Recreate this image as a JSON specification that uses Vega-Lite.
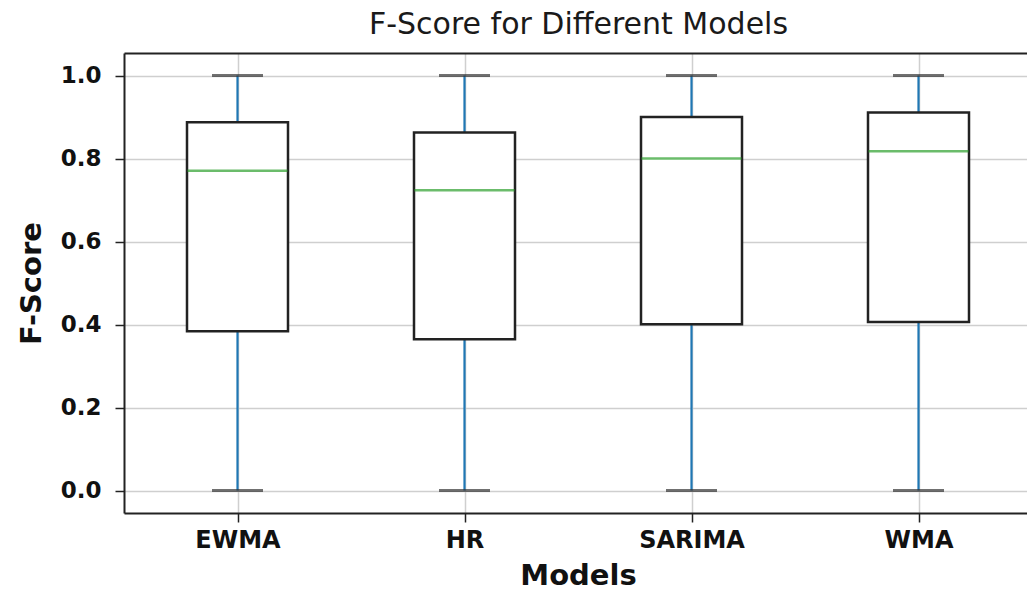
{
  "$schema": "https://vega.github.io/schema/vega-lite/v6.json",
  "autosize": {"type": "none"},
  "padding": {"left": 124, "top": 53, "right": 0, "bottom": 78},
  "width": 903,
  "height": 460,
  "background": "white",
  "title": {
    "text": "F-Score for Different Models",
    "font": "DejaVu Sans",
    "fontSize": 30,
    "fontWeight": "normal",
    "color": "#1a1a1a",
    "anchor": "middle",
    "dx": 3,
    "offset": 13
  },
  "config": {
    "view": {"stroke": null},
    "axis": {
      "labelFont": "DejaVu Sans",
      "titleFont": "DejaVu Sans",
      "labelFontWeight": "bold",
      "titleFontWeight": "bold",
      "labelColor": "#111",
      "titleColor": "#111",
      "gridColor": "#cfcfcf",
      "gridWidth": 1.5,
      "domainColor": "#222",
      "domainWidth": 2,
      "tickColor": "#222",
      "tickWidth": 1.5,
      "tickSize": 9
    }
  },
  "data": {
    "values": [
      {"model": "EWMA", "min": 0.0, "q1": 0.384, "median": 0.771, "q3": 0.8875, "max": 1.0},
      {"model": "HR", "min": 0.0, "q1": 0.365, "median": 0.7236, "q3": 0.863, "max": 1.0},
      {"model": "SARIMA", "min": 0.0, "q1": 0.401, "median": 0.80, "q3": 0.90, "max": 1.0},
      {"model": "WMA", "min": 0.0, "q1": 0.406, "median": 0.8176, "q3": 0.911, "max": 1.0}
    ]
  },
  "layer": [
    {
      "mark": {"type": "rule", "color": "#1f77b4", "strokeWidth": 2.2},
      "encoding": {
        "x": {
          "field": "model",
          "type": "nominal",
          "sort": ["EWMA", "HR", "SARIMA", "WMA"],
          "scale": {"type": "point", "padding": 0.5, "range": [0, 908]},
          "axis": {
            "title": "Models",
            "labelAngle": 0,
            "labelFontSize": 24,
            "titleFontSize": 29,
            "labelPadding": 6,
            "titlePadding": 9,
            "grid": true
          }
        },
        "y": {
          "field": "min",
          "type": "quantitative",
          "title": "F-Score",
          "scale": {"domain": [-0.054, 1.0545], "nice": false, "zero": false},
          "axis": {
            "values": [0, 0.2, 0.4, 0.6, 0.8, 1.0],
            "format": ".1f",
            "labelFontSize": 23,
            "titleFontSize": 29,
            "labelPadding": 14,
            "titlePadding": 14,
            "grid": true
          }
        },
        "y2": {"field": "max"}
      }
    },
    {
      "mark": {"type": "bar", "fill": "white", "stroke": "#222", "strokeWidth": 2.5, "size": 101},
      "encoding": {
        "x": {
          "field": "model",
          "type": "nominal",
          "sort": ["EWMA", "HR", "SARIMA", "WMA"],
          "axis": {
            "orient": "top",
            "labels": false,
            "ticks": false,
            "grid": false,
            "title": null,
            "domain": true
          }
        },
        "y": {"field": "q1", "type": "quantitative", "title": "F-Score"},
        "y2": {"field": "q3"}
      }
    },
    {
      "mark": {"type": "tick", "color": "#2ca02c", "size": 100, "thickness": 2.5},
      "encoding": {
        "x": {"field": "model", "type": "nominal", "sort": ["EWMA", "HR", "SARIMA", "WMA"], "axis": null},
        "y": {"field": "median", "type": "quantitative", "title": "F-Score"}
      }
    },
    {
      "mark": {"type": "tick", "color": "#333", "size": 51, "thickness": 3},
      "encoding": {
        "x": {"field": "model", "type": "nominal", "sort": ["EWMA", "HR", "SARIMA", "WMA"], "axis": null},
        "y": {"field": "min", "type": "quantitative", "title": "F-Score"}
      }
    },
    {
      "mark": {"type": "tick", "color": "#333", "size": 51, "thickness": 3},
      "encoding": {
        "x": {"field": "model", "type": "nominal", "sort": ["EWMA", "HR", "SARIMA", "WMA"], "axis": null},
        "y": {"field": "max", "type": "quantitative", "title": "F-Score"}
      }
    }
  ],
  "resolve": {"axis": {"x": "independent"}}
}
